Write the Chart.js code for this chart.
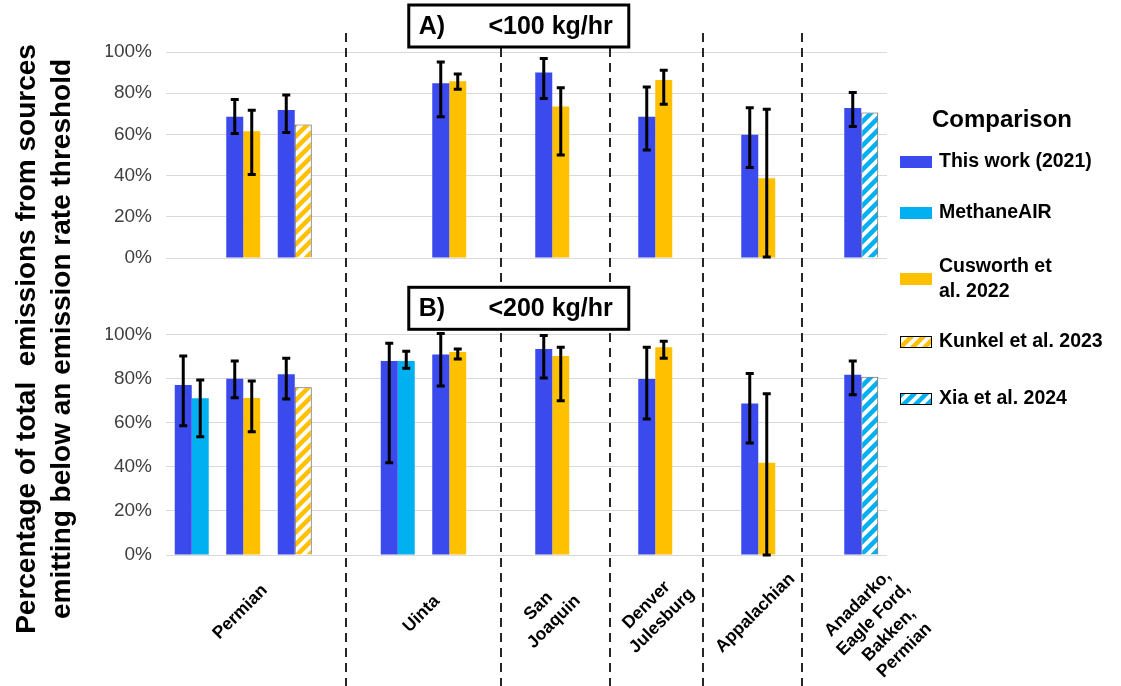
<!DOCTYPE html>
<html>
<head>
<meta charset="utf-8">
<title>Emissions below threshold</title>
<script src="https://cdn.jsdelivr.net/npm/chart.js@4.4.1/dist/chart.umd.min.js"></script>
<style>
html, body { margin: 0; padding: 0; background: #fff; }
</style>
</head>
<body>
<canvas id="myChart" width="1121" height="686"></canvas>
<script>
var FONT = '"Liberation Sans", Arial, sans-serif';

// one slot per pair of bars; the empty slots carry the dashed separators
var SLOT_BASIN = [0, 0, 0, null, 1, 1, null, 2, null, 3, null, 4, null, 5];
var SLOT_COMPARE = [1, 2, 3, null, 1, 2, null, 2, null, 2, null, 2, null, 4];

var BASINS = [
    ['Permian'],
    ['Uinta'],
    ['San', 'Joaquin'],
    ['Denver', 'Julesburg'],
    ['Appalachian'],
    ['Anadarko,', 'Eagle Ford,', 'Bakken,', 'Permian']
];
var SERIES = ['This work (2021)', 'MethaneAIR', ['Cusworth et', 'al. 2022'], 'Kunkel et al. 2023', 'Xia et al. 2024'];
var COLORS = ['#3A4AEC', '#00B0F0', '#FFC000', '#FFC000', '#00B0F0'];
var HATCHED = [false, false, false, true, true];
var TICKS = [0, 20, 40, 60, 80, 100];

// A) <100 kg/hr  (percent)
var A_WORK    = [null, 68.6, 71.8, null, null, 84.8, null, 90.0, null, 68.6, null, 59.9, null, 72.8];
var A_WORK_LO = [null, 60.5, 60.9, null, null, 68.6, null, 77.4, null, 52.4, null, 43.9, null, 63.8];
var A_WORK_HI = [null, 76.9, 79.1, null, null, 95.1, null, 96.9, null, 83.0, null, 73.0, null, 80.3];
var A_COMP    = [null, 61.5, 64.8, null, null, 85.8, null, 73.5, null, 86.4, null, 38.7, null, 70.6];
var A_COMP_LO = [null, 40.6, null, null, null, 81.9, null, 50.0, null, 74.6, null, 0.5, null, null];
var A_COMP_HI = [null, 71.7, null, null, null, 89.3, null, 82.7, null, 91.1, null, 72.2, null, null];

// B) <200 kg/hr  (percent)
var B_WORK    = [77.0, 79.9, 81.9, null, 87.9, 90.8, null, 93.3, null, 79.7, null, 68.7, null, 81.7];
var B_WORK_LO = [58.6, 71.3, 70.7, null, 41.8, 76.6, null, 80.2, null, 61.6, null, 50.7, null, 72.6];
var B_WORK_HI = [90.2, 87.9, 89.1, null, 96.0, 100.4, null, 99.4, null, 94.1, null, 82.2, null, 87.9];
var B_COMP    = [71.0, 71.1, 76.0, null, 87.9, 92.0, null, 90.2, null, 94.1, null, 41.8, null, 80.8];
var B_COMP_LO = [53.6, 55.9, null, null, 84.6, 88.8, null, 69.9, null, 89.1, null, 0, null, null];
var B_COMP_HI = [79.3, 78.8, null, null, 92.3, 93.3, null, 94.1, null, 96.8, null, 73.1, null, null];

// layout only
var SEPARATORS = [3, 6, 8.12, 9.93, 11.84];           // slot units
var PANELS = [['yA', 'A)', '<100 kg/hr'], ['yB', 'B)', '<200 kg/hr']];
var LABEL_NUDGE = [[-3, 0], [-2, 2], [-6, 2], [-1, 1], [-3, 1], [20, 15]];
var LEGEND_Y = [110, 161, 227, 290, 347];
var Y_TITLE = ['Percentage of total  emissions from sources', 'emitting below an emission rate threshold'];

var canvas = document.getElementById('myChart');
var ctx = canvas.getContext('2d');

function hatch(color) {
    var c = document.createElement('canvas');
    c.width = 12; c.height = 12;
    var g = c.getContext('2d');
    g.fillStyle = '#fff';
    g.fillRect(0, 0, 12, 12);
    g.strokeStyle = color;
    g.lineWidth = 4.5;
    g.beginPath();
    g.moveTo(-6, 6); g.lineTo(6, -6);
    g.moveTo(0, 12); g.lineTo(12, 0);
    g.moveTo(6, 18); g.lineTo(18, 6);
    g.stroke();
    return ctx.createPattern(c, 'repeat');
}

var FILLS = COLORS.map(function(c, k) { return HATCHED[k] ? hatch(c) : c; });
var compFill = SLOT_COMPARE.map(function(k) { return k === null ? 'rgba(0,0,0,0)' : FILLS[k]; });
var compBorder = SLOT_COMPARE.map(function(k) { return k !== null && HATCHED[k] ? 1 : 0; });

var labels = SLOT_BASIN.map(function(b, i) {
    if (b === null) return '';
    var s = SERIES[SLOT_COMPARE[i]];
    return BASINS[b].join(' ') + ' vs ' + (Array.isArray(s) ? s.join(' ') : s);
});

var errorBars = {
    id: 'errorBars',
    afterDatasetsDraw: function(chart) {
        var c = chart.ctx;
        c.save();
        c.strokeStyle = '#000';
        c.lineWidth = 3;
        chart.data.datasets.forEach(function(ds, i) {
            var meta = chart.getDatasetMeta(i);
            var y = chart.scales[ds.yAxisID];
            meta.data.forEach(function(bar, j) {
                if (ds.lo[j] === null || ds.hi[j] === null) return;
                var top = y.getPixelForValue(ds.hi[j]);
                var bot = y.getPixelForValue(ds.lo[j]);
                c.beginPath();
                c.moveTo(bar.x, top); c.lineTo(bar.x, bot);
                c.moveTo(bar.x - 4, top); c.lineTo(bar.x + 4, top);
                c.moveTo(bar.x - 4, bot); c.lineTo(bar.x + 4, bot);
                c.stroke();
            });
        });
        c.restore();
    }
};

var decorations = {
    id: 'decorations',
    afterDraw: function(chart) {
        var c = chart.ctx, area = chart.chartArea, x = chart.scales.x;
        var step = x.getPixelForValue(1) - x.getPixelForValue(0);
        function slotX(v) { return x.getPixelForValue(0) + v * step; }

        c.save();
        // dashed separators between basins
        c.strokeStyle = '#262626';
        c.lineWidth = 2;
        c.setLineDash([9, 6]);
        SEPARATORS.forEach(function(s) {
            var px = Math.round(slotX(s));
            c.beginPath();
            c.moveTo(px, area.top - 19);
            c.lineTo(px, chart.height);
            c.stroke();
        });
        c.setLineDash([]);

        // panel title boxes
        PANELS.forEach(function(p) {
            var sc = chart.scales[p[0]];
            var y100 = sc.getPixelForValue(100);
            var left = slotX(6.35) - 110, top = y100 - 47, w = 220, h = 42;
            c.fillStyle = '#fff';
            c.fillRect(left, top, w, h);
            c.strokeStyle = '#000';
            c.lineWidth = 3;
            c.strokeRect(left, top, w, h);
            c.fillStyle = '#000';
            c.font = 'bold 25px ' + FONT;
            c.textBaseline = 'middle';
            c.textAlign = 'left';
            c.fillText(p[1], left + 10, top + h / 2 + 1);
            c.textAlign = 'right';
            c.fillText(p[2], left + w - 16, top + h / 2 + 1);
        });

        // basin labels, rotated
        c.font = 'bold 17.5px ' + FONT;
        c.textAlign = 'center';
        c.textBaseline = 'middle';
        c.fillStyle = '#000';
        BASINS.forEach(function(lines, b) {
            var xs = [];
            SLOT_BASIN.forEach(function(sb, i) { if (sb === b) xs.push(x.getPixelForValue(i)); });
            var cx = xs.reduce(function(a, v) { return a + v; }, 0) / xs.length + LABEL_NUDGE[b][0];
            var cy = area.bottom + 57 + LABEL_NUDGE[b][1];
            c.save();
            c.translate(cx, cy);
            c.rotate(-Math.PI / 4);
            lines.forEach(function(t, i) {
                c.fillText(t, 0, (i - (lines.length - 1) / 2) * 22);
            });
            c.restore();
        });

        // y axis title
        c.save();
        c.font = 'bold 28px ' + FONT;
        c.translate(27, chart.height / 2 - 4);
        c.rotate(-Math.PI / 2);
        Y_TITLE.forEach(function(t, i) { c.fillText(t, 0, i * 35); });
        c.restore();

        // legend
        var x0 = area.right + 13;
        c.font = 'bold 24px ' + FONT;
        c.fillText('Comparison', x0 + 102, area.top + 68);
        c.font = 'bold 19.5px ' + FONT;
        c.textAlign = 'left';
        SERIES.forEach(function(name, k) {
            var cy = area.top + LEGEND_Y[k];
            c.fillStyle = FILLS[k];
            c.fillRect(x0, cy - 6, 32, 12);
            if (HATCHED[k]) {
                c.strokeStyle = '#000';
                c.lineWidth = 1;
                c.strokeRect(x0 + 0.5, cy - 5.5, 31, 11);
            }
            c.fillStyle = '#000';
            var ls = [].concat(name);
            ls.forEach(function(t, i) {
                c.fillText(t, x0 + 39, cy + (i - (ls.length - 1) / 2) * 25);
            });
        });
        c.restore();
    }
};

function yScale(min, weight) {
    return {
        position: 'left',
        stack: 'panels',
        stackWeight: weight,
        min: min,
        max: 100,
        afterBuildTicks: function(s) {
            s.ticks = TICKS.map(function(v) { return { value: v }; });
        },
        afterFit: function(s) { s.width = 60; },
        border: { display: false },
        grid: { color: '#D9D9D9', drawTicks: false },
        ticks: {
            autoSkip: false,
            padding: 14,
            color: '#404040',
            font: { family: FONT, size: 19 },
            callback: function(v) { return v + '%'; }
        }
    };
}

var myChart = new Chart(ctx, {
    type: 'bar',
    data: {
        labels: labels,
        datasets: [
            { label: 'This work (2021) <100', data: A_WORK, lo: A_WORK_LO, hi: A_WORK_HI,
              yAxisID: 'yA', stack: 'work', backgroundColor: COLORS[0], borderWidth: 0 },
            { label: 'Comparison <100', data: A_COMP, lo: A_COMP_LO, hi: A_COMP_HI,
              yAxisID: 'yA', stack: 'comp', backgroundColor: compFill, borderWidth: compBorder, borderColor: '#595959' },
            { label: 'This work (2021) <200', data: B_WORK, lo: B_WORK_LO, hi: B_WORK_HI,
              yAxisID: 'yB', stack: 'work', backgroundColor: COLORS[0], borderWidth: 0 },
            { label: 'Comparison <200', data: B_COMP, lo: B_COMP_LO, hi: B_COMP_HI,
              yAxisID: 'yB', stack: 'comp', backgroundColor: compFill, borderWidth: compBorder, borderColor: '#595959' }
        ]
    },
    options: {
        responsive: false,
        animation: false,
        devicePixelRatio: 1,
        barPercentage: 1,
        categoryPercentage: 0.66,
        layout: { padding: { left: 106, right: 234, top: 52, bottom: 131 } },
        scales: {
            x: { display: false },
            yB: yScale(0, 220.7),
            yA: yScale(-37, 282.3)
        },
        plugins: {
            legend: { display: false },
            tooltip: { enabled: false }
        }
    },
    plugins: [errorBars, decorations]
});
</script>
</body>
</html>
